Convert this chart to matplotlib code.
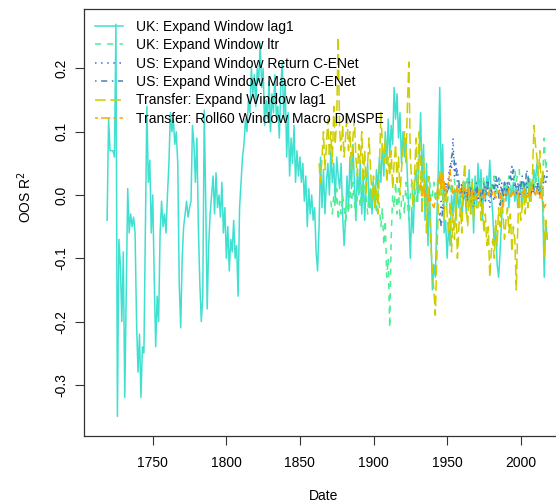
import numpy as np
import matplotlib
matplotlib.use("Agg")
import matplotlib.pyplot as plt

plt.rcParams['font.family'] = ['Liberation Sans', 'DejaVu Sans']

# ---- data (approx. yearly) ----
uk_lag1_years = np.arange(1719, 2019)
uk_lag1 = [
    -0.04,
    0.12, 0.07, 0.07, 0.07, 0.06, 0.27, -0.35, -0.07, -0.11, -0.20,
    -0.09, -0.32, -0.15, 0.01, -0.06, -0.03, -0.05, -0.035, -0.06, -0.20,
    -0.28, -0.22, -0.32, -0.24, -0.25, -0.05, 0.14, 0.02, 0.055, -0.06,
    0.0, -0.13, -0.24, -0.16, -0.20, -0.06, -0.01, -0.05, -0.03, -0.06,
    0.0, 0.05, 0.13, 0.10, 0.12, 0.08, 0.10, 0.05, -0.14, -0.21,
    -0.10, -0.05, -0.03, -0.01, -0.035, -0.02, -0.01, 0.11, 0.08, 0.02,
    0.09, -0.05, -0.14, -0.20, -0.16, 0.134, -0.01, -0.18, -0.08, -0.03,
    0.0, 0.03, -0.03, 0.035, -0.02, 0.0, -0.035, 0.02, -0.06, -0.02,
    -0.10, -0.05, -0.12, -0.07, -0.09, -0.04, -0.10, -0.08, -0.16, -0.02,
    0.02, 0.06, 0.08, 0.12, 0.10, 0.15, 0.13, 0.20, 0.16, 0.19,
    0.14, 0.20, 0.18, 0.24, 0.17, 0.20, 0.11, 0.15, 0.12, 0.18,
    0.10, 0.16, 0.13, 0.19, 0.12, 0.14, 0.09, 0.17, 0.21, 0.12,
    0.18, 0.06, 0.13, 0.03, 0.09, 0.05, 0.11, 0.02, 0.07, 0.03,
    0.06, 0.02, 0.05, -0.01, 0.03, -0.05, 0.01, -0.03, 0.0, -0.04,
    -0.02, -0.09, -0.12, -0.05, 0.06, -0.02, 0.04, -0.03, 0.02, 0.05,
    0.0, 0.07, 0.02, 0.05, -0.01, 0.06, 0.03, 0.01, 0.05, -0.03,
    -0.08, -0.04, 0.03, -0.02, 0.06, 0.01, 0.08, 0.02, -0.04, 0.04,
    0.0, 0.05, -0.03, 0.03, -0.04, 0.02, 0.05, -0.02, 0.01, -0.03,
    0.02, -0.02, 0.04, 0.01, 0.06, 0.02, 0.08, 0.03, 0.10, 0.05,
    0.12, 0.06, 0.11, 0.08, 0.17, 0.12, 0.16, 0.09, 0.13, 0.05,
    0.10, 0.06, 0.09, 0.03, -0.03, -0.10, -0.02, -0.06, 0.02, 0.04,
    -0.01, 0.06, 0.13, 0.02, 0.08, -0.04, 0.05, -0.08, 0.01, -0.06,
    -0.15, -0.11, -0.13, -0.04, 0.04, 0.17, 0.02, 0.08, -0.06, -0.04,
    -0.10, -0.05, -0.08, 0.0, -0.03, 0.01, -0.04, 0.005, -0.02, 0.0,
    -0.03, -0.01, 0.02, -0.03, 0.01, 0.04, -0.03, 0.02, -0.06, 0.03,
    -0.02, 0.05, 0.0, 0.04, -0.04, 0.02, -0.01, 0.03, 0.01, 0.055,
    0.0, -0.03, -0.08, -0.05, -0.11, -0.13, -0.09, -0.04, 0.0, 0.02,
    -0.01, 0.02, -0.02, 0.01, 0.0, 0.02, -0.01, 0.01, -0.02, 0.0,
    0.01, -0.02, 0.02, -0.01, 0.01, 0.03, -0.01, 0.02, 0.01, 0.04,
    0.02, 0.05, 0.03, 0.0, 0.02, -0.02, -0.13, -0.04, -0.07,
]

uk_ltr_years = np.arange(1871, 2019)
uk_ltr = [
    -0.01, -0.03, 0.0, -0.02, 0.01, -0.04, -0.01, -0.03, 0.0, -0.02,
    -0.05, -0.01, -0.03, 0.01, -0.02, 0.02, -0.01, -0.04, 0.0, 0.01,
    -0.02, 0.02, -0.01, 0.03, 0.0, -0.03, 0.01, -0.02, 0.02, -0.01,
    0.0, -0.03, 0.01, -0.02, -0.05, -0.02, -0.08, -0.04, -0.13, -0.10,
    -0.21, -0.07, 0.0, -0.02, 0.02, -0.03, 0.01, -0.04, -0.01, 0.0,
    -0.03, 0.02, -0.01, -0.04, 0.0, 0.02, -0.02, 0.01, -0.01, 0.02,
    0.0, 0.03, -0.01, 0.02, 0.0, -0.02, 0.01, 0.03, -0.01, 0.0,
    0.02, -0.01, 0.01, 0.03, 0.0, 0.02, -0.01, 0.01, 0.0, -0.02,
    0.01, 0.02, 0.0, 0.015, 0.025, -0.005, 0.01, 0.02, -0.01, 0.005,
    0.02, 0.0, 0.015, 0.03, -0.005, 0.01, 0.025, 0.0, 0.015, 0.02,
    0.005, 0.02, -0.01, 0.01, 0.03, 0.0, 0.02, 0.01, -0.005, 0.02,
    0.01, 0.03, 0.0, 0.015, 0.02, 0.025, 0.01, 0.0, 0.02, 0.01,
    0.015, 0.03, 0.02, 0.0, 0.01, 0.04, 0.02, 0.035, 0.04, 0.01,
    0.02, 0.0, 0.015, 0.02, 0.01, 0.03, 0.0, 0.02, 0.01, 0.03,
    0.02, 0.0, 0.01, 0.02, 0.03, 0.09, 0.04, 0.06,
]

us_ret_years = np.arange(1945, 2019)
us_ret = [
    -0.04, -0.01, -0.03, 0.0, 0.02, 0.0, 0.03, 0.05, 0.04, 0.09,
    0.03, 0.05, 0.02, 0.01, 0.0, 0.02, -0.01, 0.01, -0.02, 0.0,
    0.01, -0.01, 0.02, -0.02, 0.0, 0.01, -0.01, 0.0, -0.02, 0.01,
    0.0, -0.01, 0.02, 0.0, -0.02, 0.01, 0.0, -0.01, 0.02, 0.01,
    0.03, 0.0, 0.02, -0.01, 0.01, 0.0, 0.02, 0.01, 0.03, 0.045,
    0.02, 0.01, 0.0, 0.02, -0.01, 0.01, 0.02, 0.0, 0.01, 0.02,
    0.0, 0.01, -0.01, 0.02, 0.0, 0.01, 0.02, 0.01, 0.0, 0.02,
    0.01, 0.03, 0.02, 0.04,
]

us_macro_years = np.arange(1945, 2019)
us_macro = [
    -0.03, -0.05, -0.02, 0.01, 0.0, 0.02, 0.01, 0.04, 0.06, 0.07,
    0.05, 0.03, 0.04, 0.02, 0.0, 0.01, 0.02, 0.0, 0.01, -0.01,
    0.02, 0.0, 0.01, -0.01, 0.0, 0.02, 0.0, 0.01, -0.01, 0.0,
    0.02, 0.01, 0.0, 0.02, 0.01, 0.0, 0.02, 0.01, 0.03, 0.02,
    0.0, -0.02, 0.01, 0.0, 0.02, 0.01, 0.0, 0.02, 0.03, 0.02,
    0.04, 0.02, 0.01, 0.0, 0.02, 0.01, 0.03, 0.02, 0.01, 0.04,
    0.03, 0.01, 0.0, 0.02, 0.01, 0.0, 0.01, 0.02, 0.0, 0.01,
    0.02, 0.03, 0.02, 0.03,
]

tr_lag1_years = np.arange(1863, 2019)
tr_lag1 = [
    0.05, 0.02, 0.06, 0.10, 0.04, 0.08, 0.12, 0.06,
    0.10, 0.05, 0.14, 0.08, 0.12, 0.25, 0.10, 0.07, 0.11, 0.06,
    0.09, 0.13, 0.07, 0.10, 0.04, 0.09, 0.12, 0.06, 0.03, 0.08,
    0.05, 0.10, 0.02, 0.07, 0.0, 0.05, 0.09, 0.04, -0.01, 0.03,
    -0.02, 0.01, -0.03, 0.04, 0.13, 0.08, 0.05, 0.09, 0.02, 0.06,
    0.03, 0.07, 0.01, 0.05, 0.08, 0.02, 0.06, 0.0, 0.04, 0.07,
    0.10, 0.05, 0.14, 0.21, 0.06, 0.02, -0.02, 0.04, 0.09, 0.01,
    0.10, 0.05, -0.03, 0.06, 0.0, -0.06, 0.03, -0.02, -0.08, -0.12,
    -0.15, -0.19, -0.10, -0.02, 0.04, 0.0, 0.03, -0.04, 0.01, -0.03,
    -0.06, -0.01, -0.09, -0.03, -0.07, 0.0, -0.10, -0.05, -0.02, -0.06,
    0.02, 0.05, -0.02, -0.05, 0.01, -0.03, 0.02, -0.04, 0.0, -0.02,
    -0.02, 0.01, -0.04, -0.01, -0.06, -0.03, -0.08, -0.05, -0.13, -0.09,
    -0.07, -0.10, -0.04, -0.08, -0.02, -0.05, 0.0, -0.03, -0.07, -0.04,
    -0.02, -0.06, -0.03, -0.09, -0.05, -0.07, -0.15, -0.05, 0.0, -0.04,
    -0.02, 0.01, -0.03, 0.0, -0.02, 0.02, -0.01, 0.03, 0.11, 0.08,
    0.06, 0.03, 0.07, 0.01, 0.04, -0.10, -0.04, -0.07,
]

tr_dmspe_years = np.arange(1931, 2019)
tr_dmspe = [
    0.01, 0.02, 0.0, 0.01, -0.005, 0.0, -0.01, 0.0, -0.01, -0.015,
    -0.02, -0.01, 0.0, 0.02, 0.03, 0.01, 0.035, 0.02, 0.0, 0.01,
    0.02, 0.04, 0.015, 0.0, 0.01, 0.005, 0.015, 0.0, 0.01, -0.005,
    0.005, 0.01, 0.0, 0.01, -0.005, 0.005, 0.0, 0.01, 0.005, -0.005,
    0.0, 0.01, 0.005, 0.0, -0.005, 0.01, 0.005, 0.0, 0.01, 0.005,
    0.0, 0.005, -0.005, 0.0, 0.01, 0.0, -0.01, -0.02, 0.0, 0.005,
    0.0, 0.01, -0.005, 0.0, 0.005, 0.0, 0.01, 0.005, -0.005, 0.0,
    0.005, 0.0, 0.01, 0.0, -0.005, 0.005, 0.0, 0.01, 0.005, 0.0,
    0.01, 0.0, -0.005, 0.005, -0.01, -0.02, -0.015, -0.02,
]

labels = [
    "UK: Expand Window lag1",
    "UK: Expand Window ltr",
    "US: Expand Window Return C-ENet",
    "US: Expand Window Macro C-ENet",
    "Transfer: Expand Window lag1",
    "Transfer: Roll60 Window Macro DMSPE",
]

fig = plt.figure(figsize=(5.56, 5.04), dpi=100)
ax = fig.add_axes([84 / 556, 68 / 504, 481 / 556, 427 / 504])

lw = 1.1
ax.plot(uk_lag1_years, uk_lag1, color="#40E0D0", lw=lw, label=labels[0])
ax.plot(uk_ltr_years, uk_ltr, color="#4EEE94", lw=lw, dashes=(4, 4), label=labels[1])
ax.plot(us_ret_years, us_ret, color="#4169E1", lw=lw, dashes=(1, 3), label=labels[2])
ax.plot(us_macro_years, us_macro, color="#4682B4", lw=lw, dashes=(1, 3, 4, 3), label=labels[3])
ax.plot(tr_lag1_years, tr_lag1, color="#CDCD00", lw=lw, dashes=(7, 3), label=labels[4])
ax.plot(tr_dmspe_years, tr_dmspe, color="#FFA500", lw=lw, dashes=(2, 2, 6, 2), label=labels[5])

ax.set_xlim(1703.3, 2030.1)
ax.set_ylim(-0.381, 0.294)
ax.set_xticks([1750, 1800, 1850, 1900, 1950, 2000])
ax.set_yticks([-0.3, -0.2, -0.1, 0.0, 0.1, 0.2])
ax.set_yticklabels(["-0.3", "-0.2", "-0.1", "0.0", "0.1", "0.2"], rotation=90, va="center")
ax.tick_params(length=6.5, width=0.8, labelsize=10, color="#333333")
ax.tick_params(axis="x", pad=8)
ax.tick_params(axis="y", pad=5)
for s in ax.spines.values():
    s.set_linewidth(0.9)
    s.set_color("#333333")

fig.text(324 / 556, 1 - 496 / 504, "Date", ha="center", va="center", fontsize=10)
fig.text(25 / 556, 1 - 197 / 504, "OOS R$^2$", ha="center", va="center", rotation=90, fontsize=10)

ax.legend(loc="upper left", frameon=False, fontsize=10, handlelength=2.0,
          handletextpad=0.9, labelspacing=0.32, borderaxespad=0.0,
          bbox_to_anchor=(0.012, 0.988))

fig.savefig("out.png", dpi=100)
